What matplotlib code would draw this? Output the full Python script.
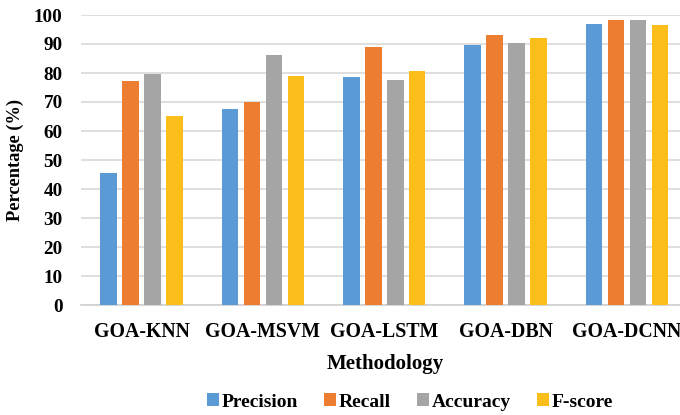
import matplotlib
matplotlib.use("Agg")
import matplotlib.pyplot as plt
import numpy as np

categories = ["GOA-KNN", "GOA-MSVM", "GOA-LSTM", "GOA-DBN", "GOA-DCNN"]
precision = [45.6, 67.5, 78.5, 89.7, 96.9]
recall = [77.3, 69.9, 89.1, 93.0, 98.4]
accuracy = [79.8, 86.1, 77.7, 90.5, 98.4]
fscore = [65.0, 78.8, 80.8, 92.0, 96.4]
series_names = ["Precision", "Recall", "Accuracy", "F-score"]
yticks = [0, 10, 20, 30, 40, 50, 60, 70, 80, 90, 100]

colors = ["#5B9BD5", "#ED7D31", "#A5A5A5", "#FBBE1A"]
font = "Liberation Serif"

fig = plt.figure(figsize=(6.8, 4.15), dpi=100)
ax = fig.add_axes([0.1188, 1 - 305 / 415, 0.8926, (305 - 15) / 415])

x = np.arange(len(categories))
step = 0.181
width = 0.136
all_series = [precision, recall, accuracy, fscore]
for i, (vals, name, c) in enumerate(zip(all_series, series_names, colors)):
    ax.bar(x + (i - 1.5) * step, vals, width=width, color=c, label=name, zorder=3)

ax.set_xlim(-0.5, len(categories) - 0.5)
ax.set_ylim(0, 100)
ax.set_yticks(yticks)
ax.set_yticklabels([str(t) for t in yticks], fontfamily=font, fontweight="bold", fontsize=13.8)
ax.set_xticks(x)
ax.set_xticklabels(categories, fontfamily=font, fontweight="bold", fontsize=14.3)
ax.tick_params(axis="y", length=0, pad=13)
ax.tick_params(axis="x", length=0, pad=12)
ax.grid(axis="y", color="#d9d9d9", linewidth=1.2, zorder=0)
for s in ["top", "right", "left"]:
    ax.spines[s].set_visible(False)
ax.spines["bottom"].set_color("#d0d0d0")
ax.spines["bottom"].set_linewidth(1.2)

fig.text(15 / 680, 1 - 160 / 415, "Percentage (%)", rotation=90, ha="center", va="center",
         fontfamily=font, fontweight="bold", fontsize=13.2)
fig.text(385 / 680, 1 - 364 / 415, "Methodology", ha="center", va="center",
         fontfamily=font, fontweight="bold", fontsize=15)

handles, labels = ax.get_legend_handles_labels()
leg = fig.legend(handles, labels, loc="center", bbox_to_anchor=(410 / 680, 1 - 402 / 415),
                 ncol=4, frameon=False, prop={"family": font, "weight": "bold", "size": 14},
                 handlelength=0.6, handleheight=0.6, handletextpad=0.15, columnspacing=1.35)

fig.savefig("out.png", dpi=100)
